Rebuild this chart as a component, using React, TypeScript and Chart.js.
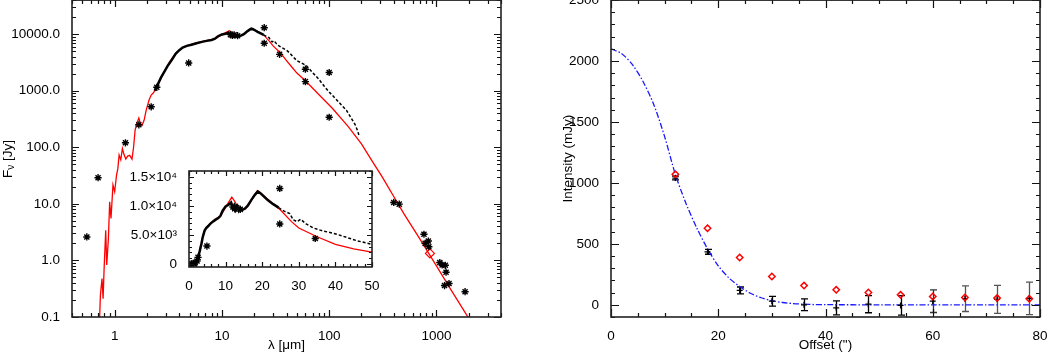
import { useEffect, useRef } from "react";
import { Chart, registerables } from "chart.js";

Chart.register(...registerables);

const FONT = "'Liberation Sans', Arial, Helvetica, sans-serif";
const FSIZE = 13.5;

// ---------------- Left panel: SED ----------------
// red model curve (wavelength in micron, flux in Jy)
const modelLambda = [0.715, 0.725, 0.736, 0.762, 0.78, 0.797, 0.825, 0.843, 0.874, 0.898, 0.924, 0.964, 1.0, 1.04, 1.07, 1.1, 1.14, 1.18, 1.22, 1.27, 1.32, 1.38, 1.45, 1.5, 1.55, 1.6, 1.68, 1.74, 1.8, 1.88, 1.97, 2.1, 2.19, 2.3, 2.4, 2.53, 2.82, 3.25, 3.75, 4.3, 5.3, 7.1, 8.5, 9.5, 10.5, 11.7, 12.5, 13.5, 14.5, 15.5, 16.5, 17.5, 18.7, 20, 22, 25, 28, 30, 35, 40, 45, 50, 60, 80, 107, 150, 200, 250, 312, 400, 500, 700, 1000, 1400, 2000, 2300];
const modelFlux = [0.06, 0.108, 0.243, 0.48, 0.21, 0.72, 3.4, 0.83, 2.45, 10.9, 5.5, 21.6, 16.4, 32, 42, 73, 60, 95, 75, 62, 70, 72, 62, 100, 200, 260, 330, 260, 245, 300, 460, 700, 840, 920, 1050, 1250, 2000, 3250, 4650, 5800, 6700, 7700, 8200, 9200, 10300, 11500, 10800, 9600, 9200, 9500, 10300, 11500, 12600, 12000, 10900, 9300, 7300, 6200, 4700, 3400, 2600, 2050, 1500, 860, 490, 235, 115, 58, 30, 13.5, 6.6, 2.4, 0.8, 0.28, 0.095, 0.06];

// black spectrum, dense part
const specDenseLambda = [2.36, 2.5, 2.7, 2.9, 3.1, 3.4, 3.7, 4.0, 4.3, 4.7, 5.2, 5.8, 6.5, 7.2, 8.0, 8.6, 9.2, 10.0, 10.8, 11.5, 12.0, 12.4, 12.8, 13.2, 13.6, 14.0, 14.5, 15.2, 16.0, 17.0, 18.0, 18.8, 19.5, 20.5, 21.5, 23.0, 24.5];
const specDenseFlux = [1000, 1250, 1700, 2150, 2700, 3500, 4500, 5200, 5800, 6200, 6500, 6900, 7300, 7600, 7900, 8300, 9200, 9900, 10200, 10600, 9600, 10100, 9300, 9900, 9200, 9700, 9300, 9500, 10000, 11000, 11900, 12500, 12200, 11600, 11000, 10300, 9700];
// black spectrum, dashed long-wavelength part
const specTailLambda = [24.5, 26, 27.5, 28.5, 29.5, 30.5, 32, 34, 36, 38, 40.5, 43, 46, 50, 55, 61, 70, 80, 90, 100, 115, 130, 145, 160, 175, 185, 190];
const specTailFlux = [9700, 9100, 8700, 7600, 7300, 7700, 6900, 6200, 5800, 5500, 5100, 4600, 4000, 3400, 3100, 2800, 2100, 1600, 1200, 950, 720, 560, 450, 330, 250, 190, 160];

// photometry (asterisks)
const photLambda = [0.55, 0.70, 1.26, 1.68, 2.19, 2.47, 4.9, 12.0, 12.5, 13.0, 14.0, 24.8, 24.8, 34.5, 60, 60, 100, 100, 400, 450, 765, 785, 840, 850, 1075, 1130, 1210, 1230, 1190, 1310, 1850];
const photFlux = [2.6, 29, 120, 250, 520, 1150, 3100, 9800, 9500, 9700, 9400, 13000, 6900, 4400, 2400, 1450, 2100, 340, 10.6, 9.9, 2.9, 2.0, 2.2, 1.75, 0.92, 0.83, 0.82, 0.62, 0.36, 0.39, 0.28];

// red diamond
const mmLambda = [870];
const mmFlux = [1.33];

const sedXTicks = [1, 10, 100, 1000];
const sedXLabels = ["1", "10", "100", "1000"];
const sedYTicks = [0.1, 1, 10, 100, 1000, 10000];
const sedYLabels = ["0.1", "1.0", "10.0", "100.0", "1000.0", "10000.0"];

const insetXTicks = [0, 10, 20, 30, 40, 50];
const insetXLabels = ["0", "10", "20", "30", "40", "50"];
const insetYTicks = [0, 5000, 10000, 15000];
const insetYLabels = ["0", "5.0×10³", "1.0×10⁴", "1.5×10⁴"];

// ---------------- Right panel: radial profile ----------------
const offsets = [12, 18, 24, 30, 36, 42, 48, 54, 60, 66, 72, 78];
const obsIntensity = [1040, 435, 118, 30, 0, -25, 5, -5, 30, 50, 45, 53];
const obsError = [15, 20, 28, 40, 48, 58, 70, 80, 93, 105, 115, 133];
const modelIntensity = [1071, 628, 388, 232, 158, 123, 101, 82, 68, 60, 55, 49];

const fitOffsets = [0, 2, 4, 6, 8, 10, 12, 14, 16, 18, 20, 22, 24, 26, 28, 30, 32, 34, 36, 38, 40, 50, 60, 70, 80];
const fitIntensity = [2100, 2060, 1970, 1830, 1640, 1380, 1070, 830, 630, 460, 320, 220, 150, 95, 58, 34, 19, 10, 5, 2, 1, 0, 0, 0, 0];

const profXTicks = [0, 20, 40, 60, 80];
const profXLabels = ["0", "20", "40", "60", "80"];
const profYTicks = [0, 500, 1000, 1500, 2000, 2500];
const profYLabels = ["0", "500", "1000", "1500", "2000", "2500"];

// ---------------- helpers ----------------
const pts = (xs: number[], ys: number[]) => xs.map((x, i) => ({ x, y: ys[i] }));

function logTicks(min: number, max: number) {
  const major: number[] = [];
  const minor: number[] = [];
  for (let e = Math.floor(Math.log10(min)); e <= Math.ceil(Math.log10(max)); e++) {
    for (let k = 1; k <= 9; k++) {
      const v = k * Math.pow(10, e);
      if (v < min * 0.999 || v > max * 1.001) continue;
      (k === 1 ? major : minor).push(v);
    }
  }
  return { major, minor };
}
function linTicks(min: number, max: number, majorStep: number, minorStep: number) {
  const major: number[] = [];
  const minor: number[] = [];
  const start = Math.ceil(min / minorStep) * minorStep;
  for (let v = start; v <= max + 1e-9; v += minorStep) {
    const r = Math.round(v / minorStep) * minorStep;
    if (Math.abs(r / majorStep - Math.round(r / majorStep)) < 1e-6) major.push(r);
    else minor.push(r);
  }
  return { major, minor };
}

type TickSet = { major: number[]; minor: number[] };
function makeFrame(xt: TickSet, yt: TickSet, majorLen: number, minorLen: number) {
  return {
    id: "idlFrame",
    afterDraw(chart: any) {
      const { ctx, chartArea } = chart;
      const { left, right, top, bottom } = chartArea;
      const xs = chart.scales.x;
      const ys = chart.scales.y;
      ctx.save();
      ctx.strokeStyle = "#111";
      ctx.lineWidth = 1.2;
      ctx.beginPath();
      const drawX = (vals: number[], len: number) => {
        for (const v of vals) {
          const p = Math.round(xs.getPixelForValue(v)) + 0.5;
          if (p < left - 1 || p > right + 1) continue;
          ctx.moveTo(p, bottom);
          ctx.lineTo(p, bottom - len);
          ctx.moveTo(p, top);
          ctx.lineTo(p, top + len);
        }
      };
      const drawY = (vals: number[], len: number) => {
        for (const v of vals) {
          const p = Math.round(ys.getPixelForValue(v)) + 0.5;
          if (p < top - 1 || p > bottom + 1) continue;
          ctx.moveTo(left, p);
          ctx.lineTo(left + len, p);
          ctx.moveTo(right, p);
          ctx.lineTo(right - len, p);
        }
      };
      drawX(xt.major, majorLen);
      drawX(xt.minor, minorLen);
      drawY(yt.major, majorLen);
      drawY(yt.minor, minorLen);
      ctx.stroke();
      ctx.lineWidth = 1.6;
      ctx.strokeStyle = "#222";
      ctx.strokeRect(left, top, right - left, bottom - top);
      ctx.restore();
    },
  };
}

const tickFont = { family: FONT, size: FSIZE };

function axisX(type: string, min: number, max: number, ticks: number[], labels: string[], height: number, title?: string) {
  return {
    type,
    min,
    max,
    bounds: "data",
    grid: { display: false },
    border: { display: false },
    afterBuildTicks: (s: any) => {
      s.ticks = ticks.map((v) => ({ value: v }));
    },
    afterFit: (s: any) => {
      s.height = height;
    },
    ticks: {
      autoSkip: false,
      maxRotation: 0,
      minRotation: 0,
      padding: 3,
      color: "#000",
      font: tickFont,
      callback: (_v: any, i: number) => labels[i],
    },
    title: title
      ? { display: true, text: title, color: "#000", font: tickFont, padding: { top: 0, bottom: 1 } }
      : { display: false },
  };
}
function axisY(type: string, min: number, max: number, ticks: number[], labels: string[], width: number, title?: string) {
  return {
    type,
    min,
    max,
    bounds: "data",
    grid: { display: false },
    border: { display: false },
    afterBuildTicks: (s: any) => {
      s.ticks = ticks.map((v) => ({ value: v }));
    },
    afterFit: (s: any) => {
      s.width = width;
    },
    ticks: {
      autoSkip: false,
      padding: 4,
      color: "#000",
      font: tickFont,
      callback: (_v: any, i: number) => labels[i],
    },
    title: title
      ? { display: true, text: title, color: "#000", font: tickFont, padding: { top: 0, bottom: 0 } }
      : { display: false },
  };
}

function sedDatasets(withMm: boolean) {
  const ds: any[] = [
    {
      data: pts(photLambda, photFlux),
      showLine: false,
      pointStyle: "star",
      pointRadius: 3.6,
      borderColor: "#000",
      backgroundColor: "#000",
      borderWidth: 1.4,
      order: 0,
    },
    {
      data: pts(specDenseLambda, specDenseFlux),
      showLine: true,
      borderColor: "#000",
      borderWidth: 2.5,
      pointRadius: 0,
      tension: 0,
      order: 2,
    },
    {
      data: pts(specTailLambda, specTailFlux),
      showLine: true,
      borderColor: "#000",
      borderWidth: 1.5,
      borderDash: [3, 2],
      pointRadius: 0,
      tension: 0,
      order: 2,
    },
    {
      data: pts(modelLambda, modelFlux),
      showLine: true,
      borderColor: "#ff0000",
      borderWidth: 1.3,
      pointRadius: 0,
      tension: 0,
      order: 3,
    },
  ];
  if (withMm) {
    ds.push({
      data: pts(mmLambda, mmFlux),
      showLine: false,
      pointStyle: "rectRot",
      pointRadius: 4.5,
      borderColor: "#ff0000",
      backgroundColor: "rgba(0,0,0,0)",
      borderWidth: 1.2,
      order: 1,
    });
  }
  return ds;
}

const yTitlePlugin = {
  id: "fnuTitle",
  afterDraw(chart: any) {
    const { ctx, chartArea } = chart;
    ctx.save();
    ctx.translate(8, chartArea.top + 159);
    ctx.rotate(-Math.PI / 2);
    ctx.fillStyle = "#000";
    ctx.textBaseline = "middle";
    ctx.textAlign = "left";
    const f1 = `${FSIZE}px ${FONT}`;
    const f2 = `10px ${FONT}`;
    ctx.font = f1;
    const wF = ctx.measureText("F").width;
    const wRest = ctx.measureText(" [Jy]").width;
    ctx.font = f2;
    const wNu = ctx.measureText("ν").width;
    let x = -(wF + wNu + wRest) / 2;
    ctx.font = f1;
    ctx.fillText("F", x, 0);
    x += wF;
    ctx.font = f2;
    ctx.fillText("ν", x, 3);
    x += wNu;
    ctx.font = f1;
    ctx.fillText(" [Jy]", x, 0);
    ctx.restore();
  },
};

const errColors = ["#000", "#000", "#000", "#000", "#000", "#000", "#000", "#000", "#333", "#555", "#555", "#555"];

const errorBarPlugin = {
  id: "errorBars",
  beforeDatasetsDraw(chart: any) {
    const { ctx, chartArea } = chart;
    const xs = chart.scales.x;
    const ys = chart.scales.y;
    ctx.save();
    ctx.beginPath();
    ctx.rect(chartArea.left, chartArea.top, chartArea.right - chartArea.left, chartArea.bottom - chartArea.top);
    ctx.clip();
    ctx.lineWidth = 1.3;
    offsets.forEach((o, i) => {
      const x = Math.round(xs.getPixelForValue(o)) + 0.5;
      const y1 = ys.getPixelForValue(obsIntensity[i] - obsError[i]);
      const y2 = ys.getPixelForValue(obsIntensity[i] + obsError[i]);
      ctx.strokeStyle = errColors[i];
      ctx.beginPath();
      ctx.moveTo(x, y1);
      ctx.lineTo(x, y2);
      ctx.moveTo(x - 3.5, y1);
      ctx.lineTo(x + 3.5, y1);
      ctx.moveTo(x - 3.5, y2);
      ctx.lineTo(x + 3.5, y2);
      ctx.stroke();
    });
    ctx.restore();
  },
};

export default function App() {
  const sedRef = useRef<HTMLCanvasElement>(null);
  const insetRef = useRef<HTMLCanvasElement>(null);
  const profRef = useRef<HTMLCanvasElement>(null);

  useEffect(() => {
    Chart.defaults.font.family = FONT;
    const charts: Chart[] = [];

    const common = {
      animation: false,
      responsive: false,
      events: [],
      plugins: { legend: { display: false }, tooltip: { enabled: false } },
    };

    // main SED
    charts.push(
      new Chart(sedRef.current as HTMLCanvasElement, {
        type: "scatter",
        data: { datasets: sedDatasets(true) },
        options: {
          ...common,
          layout: { padding: { top: 12, right: 19, left: 0, bottom: 0 } },
          scales: {
            x: axisX("logarithmic", 0.4, 4000, sedXTicks, sedXLabels, 37, "λ [μm]"),
            y: axisY("logarithmic", 0.1, 40000, sedYTicks, sedYLabels, 72),
          },
        } as any,
        plugins: [makeFrame(logTicks(0.4, 4000), logTicks(0.1, 40000), 7, 4) as any, yTitlePlugin as any],
      })
    );

    // inset
    charts.push(
      new Chart(insetRef.current as HTMLCanvasElement, {
        type: "scatter",
        data: { datasets: sedDatasets(false) },
        options: {
          ...common,
          layout: { padding: { top: 20, right: 28, left: 0, bottom: 0 } },
          scales: {
            x: axisX("linear", 0, 50, insetXTicks, insetXLabels, 29),
            y: axisY("linear", -500, 16000, insetYTicks, insetYLabels, 69),
          },
        } as any,
        plugins: [makeFrame(linTicks(0, 50, 10, 2), linTicks(-500, 16000, 5000, 1000), 5, 3) as any],
      })
    );

    // radial profile
    charts.push(
      new Chart(profRef.current as HTMLCanvasElement, {
        type: "scatter",
        data: {
          datasets: [
            {
              data: pts(offsets, modelIntensity),
              showLine: false,
              pointStyle: "rectRot",
              pointRadius: 3.2,
              borderColor: "#ff0000",
              backgroundColor: "rgba(0,0,0,0)",
              borderWidth: 1.5,
              order: 0,
            },
            {
              data: pts(offsets, obsIntensity),
              showLine: false,
              pointStyle: "cross",
              pointRadius: 3,
              borderColor: "#000",
              borderWidth: 1.3,
              order: 1,
            },
            {
              data: pts(fitOffsets, fitIntensity),
              showLine: true,
              borderColor: "#1a1aff",
              borderWidth: 1.3,
              borderDash: [6, 2, 1.5, 2],
              pointRadius: 0,
              tension: 0.3,
              order: 2,
            },
          ],
        },
        options: {
          ...common,
          layout: { padding: { top: 12, right: 20, left: 0, bottom: 0 } },
          scales: {
            x: axisX("linear", 0, 80, profXTicks, profXLabels, 37, 'Offset (")'),
            y: axisY("linear", -100, 2500, profYTicks, profYLabels, 51, "Intensity (mJy)"),
          },
        } as any,
        plugins: [makeFrame(linTicks(0, 80, 20, 5), linTicks(-100, 2500, 500, 100), 8, 4) as any, errorBarPlugin as any],
      })
    );

    return () => charts.forEach((c) => c.destroy());
  }, []);

  return (
    <div
      style={{
        position: "absolute",
        left: 0,
        top: 0,
        width: 1048,
        height: 354,
        overflow: "hidden",
        background: "#fff",
      }}
    >
      <canvas ref={sedRef} width={520} height={366} style={{ position: "absolute", left: 0, top: -12 }} />
      <canvas ref={insetRef} width={280} height={145} style={{ position: "absolute", left: 120, top: 151 }} />
      <canvas ref={profRef} width={500} height={366} style={{ position: "absolute", left: 560, top: -12 }} />
    </div>
  );
}
